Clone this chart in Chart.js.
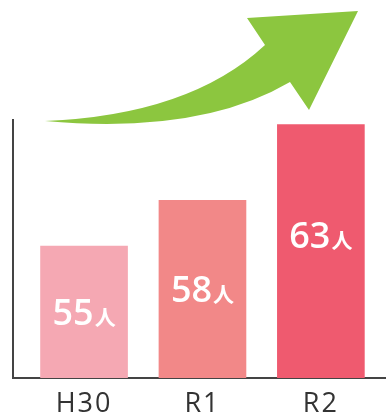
<!DOCTYPE html>
<html>
<head>
<meta charset="utf-8">
<script src="https://cdn.jsdelivr.net/npm/chart.js@4/dist/chart.umd.min.js"></script>
<style>
  html, body { margin: 0; padding: 0; background: #ffffff; }
  #wrap { width: 386px; height: 416px; position: relative; }
</style>
</head>
<body>
<div id="wrap"><canvas id="c" width="386" height="416"></canvas></div>
<script>
const categories = ["H30", "R1", "R2"];
const values = [55, 58, 63];
const unitLabel = "人";
const barColors = ["#f5a8b3", "#f28888", "#ef5a6f"];
const yMin = 46.3;
const yMax = 63.3;

const positions = categories.map((c, i) => i);

// decorative rising arrow (illustration above the plot)
const arrowPlugin = {
  id: 'arrow',
  afterDraw(chart) {
    const ctx = chart.ctx;
    ctx.save();
    ctx.fillStyle = '#8cc63f';
    ctx.beginPath();
    ctx.moveTo(45, 121);
    ctx.quadraticCurveTo(190, 115, 265, 45);
    ctx.lineTo(247, 18);
    ctx.lineTo(358, 11);
    ctx.lineTo(309, 110);
    ctx.lineTo(290, 82);
    ctx.quadraticCurveTo(200, 135, 45, 121);
    ctx.closePath();
    ctx.fill();
    ctx.restore();
  }
};

const spacingPlugin = {
  id: 'spacing',
  beforeDraw(chart) { chart.ctx.letterSpacing = '2px'; },
  beforeDatasetsDraw(chart) { chart.ctx.letterSpacing = '0px'; }
};

const valueLabelPlugin = {
  id: 'valueLabels',
  afterDatasetsDraw(chart) {
    const ctx = chart.ctx;
    const meta = chart.getDatasetMeta(0);
    meta.data.forEach((bar, i) => {
      const num = String(values[i]);
      ctx.save();
      ctx.letterSpacing = '0px';
      ctx.fillStyle = '#ffffff';
      ctx.textBaseline = 'alphabetic';
      ctx.textAlign = 'left';
      const numFont = '600 36px "Open Sans"';
      const unitFont = 'bold 21px "Noto Sans CJK JP"';
      ctx.font = numFont;
      const w1 = ctx.measureText(num).width;
      ctx.font = unitFont;
      const w2 = ctx.measureText(unitLabel).width;
      const x0 = bar.x - (w1 + w2 + 1) / 2;
      // centred in the bar, but never more than 110px below its top
      const yMid = Math.min((bar.y + bar.base) / 2, bar.y + 110);
      const baseline = yMid + 13;
      ctx.font = numFont;
      ctx.fillText(num, x0, baseline);
      ctx.font = unitFont;
      ctx.fillText(unitLabel, x0 + w1 + 1, baseline);
      ctx.restore();
    });
  }
};

new Chart(document.getElementById('c'), {
  type: 'bar',
  data: {
    datasets: [{
      data: positions.map((p, i) => ({ x: p, y: values[i] })),
      backgroundColor: barColors,
      borderWidth: 0,
      barThickness: 87,
      base: yMin
    }]
  },
  options: {
    responsive: false,
    animation: false,
    events: [],
    layout: { padding: { top: 120, left: 13, right: 0, bottom: 0 } },
    plugins: { legend: { display: false }, tooltip: { enabled: false } },
    scales: {
      x: {
        type: 'linear',
        offset: false,
        bounds: 'data',
        min: -0.6,
        max: 2.55,
        afterBuildTicks(scale) { scale.ticks = positions.map(p => ({ value: p })); },
        afterFit(scale) { scale.height = 38; },
        grid: { display: false, drawTicks: false, offset: false },
        border: { display: true, color: '#444444', width: 2 },
        ticks: {
          autoSkip: false,
          maxRotation: 0,
          padding: 15,
          color: '#333333',
          font: { family: 'Open Sans', size: 27, weight: '400', lineHeight: 0.86 },
          callback: (v) => categories[v]
        }
      },
      y: {
        min: yMin,
        max: yMax,
        beginAtZero: false,
        grid: { display: false, drawTicks: false },
        border: { display: true, color: '#444444', width: 2 },
        ticks: { display: false }
      }
    }
  },
  plugins: [spacingPlugin, valueLabelPlugin, arrowPlugin]
});
</script>
</body>
</html>
